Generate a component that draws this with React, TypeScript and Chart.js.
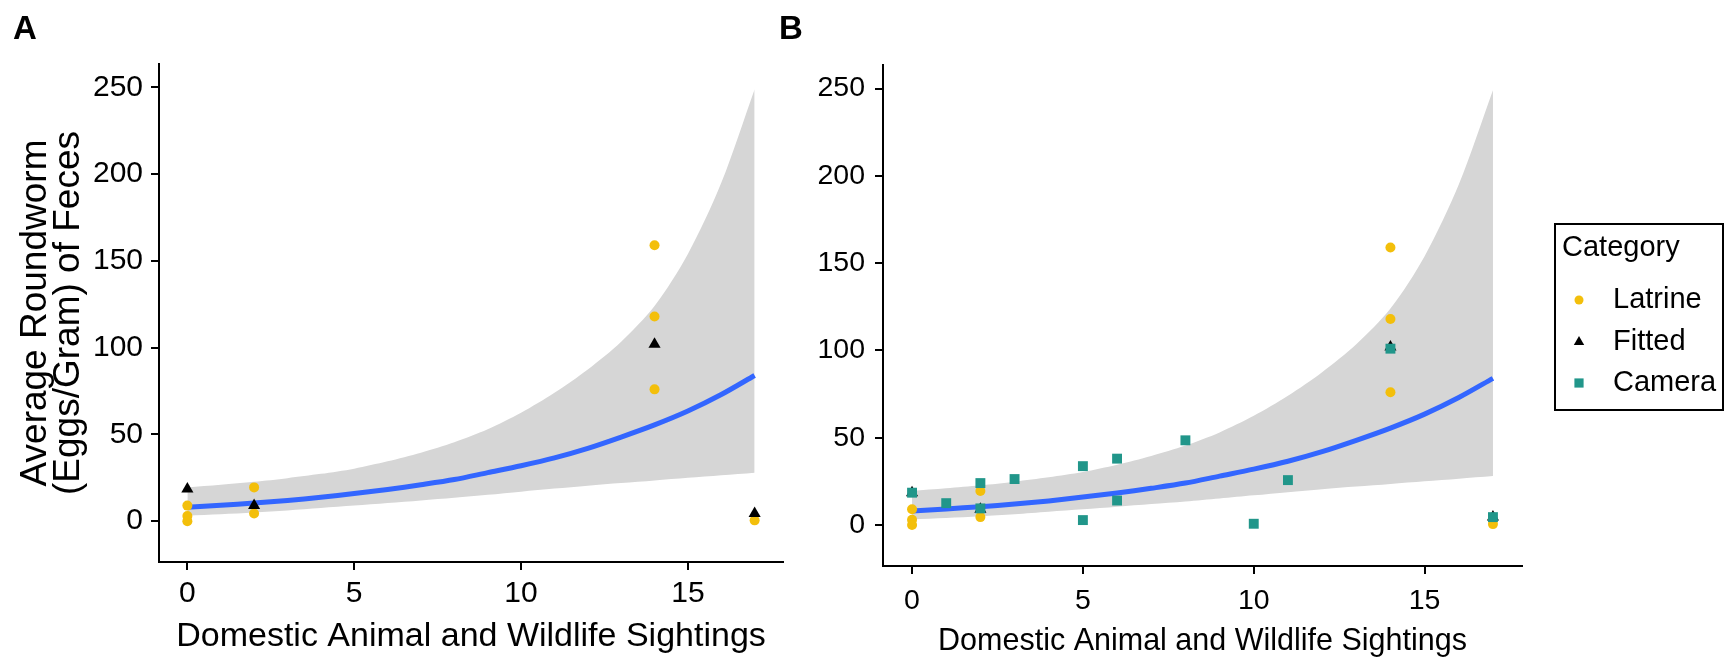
import React, { useEffect, useRef } from "react";
import { Chart, registerables } from "chart.js";

Chart.register(...registerables);

const FONT = "'Liberation Sans', Arial, Helvetica, sans-serif";

// ---------- data ----------
const xTicks = [0, 5, 10, 15];
const yTicks = [0, 50, 100, 150, 200, 250];

const curveX = [0, 1, 2, 3, 4, 5, 6, 7, 8, 9, 10, 11, 12, 13, 14, 15, 16, 17];
const fitValues = [8, 9.2, 10.5, 12, 13.8, 16, 18.3, 21, 24, 28, 32, 36.5, 42, 48.5, 55.5, 63.5, 73, 84];
const upperValues = [19.5, 21, 22.7, 24.8, 27.3, 30.3, 34.5, 39.5, 45.5, 53, 62.5, 74, 87.5, 103.5, 124, 154, 195, 249];
const lowerValues = [3.2, 4, 5, 6.2, 7.6, 9, 10.5, 12, 13.5, 15.2, 17, 18.8, 20.5, 22, 23.5, 25, 26.5, 28];

const latrineX = [0, 0, 0, 2, 2, 14, 14, 14, 17];
const latrineY = [9, 3, 0, 19.5, 4.5, 159, 118, 76, 0.5];

const fittedX = [0, 2, 14, 17];
const fittedY = [18.5, 9, 102, 4.5];

const cameraX = [0, 1, 2, 2, 3, 5, 5, 6, 6, 8, 10, 11, 14, 17];
const cameraY = [18.5, 12.5, 24, 9.5, 26.3, 33.7, 2.8, 38, 14, 48.5, 0.7, 25.7, 101, 4.5];

const categories = ["Latrine", "Fitted", "Camera"];
const legendTitle = "Category";
const xTitle = "Domestic Animal and Wildlife Sightings";
const yTitle = ["Average Roundworm", "(Eggs/Gram) of Feces"];

// ---------- styles ----------
const C_LATRINE = "#F3BF0B";
const C_FITTED = "#000000";
const C_CAMERA = "#21968A";
const C_CURVE = "#3366FF";
const C_RIBBON = "#D6D6D6";
const C_AXIS = "#000000";

const pts = (xs: number[], ys: number[]) => xs.map((x, i) => ({ x, y: ys[i] }));

function drawMarker(ctx: CanvasRenderingContext2D, style: string, x: number, y: number, r: number, color: string) {
  ctx.fillStyle = color;
  ctx.beginPath();
  if (style === "circle") {
    ctx.arc(x, y, r, 0, Math.PI * 2);
  } else if (style === "triangle") {
    ctx.moveTo(x, y - r);
    ctx.lineTo(x + r * 0.866, y + r * 0.5);
    ctx.lineTo(x - r * 0.866, y + r * 0.5);
    ctx.closePath();
  } else {
    const s = r * Math.SQRT1_2;
    ctx.rect(x - s, y - s, 2 * s, 2 * s);
  }
  ctx.fill();
}

const legendBoxPlugin = {
  id: "categoryLegendBox",
  afterDraw(chart: any) {
    const opts = chart.config.options.categoryLegend;
    if (!opts) return;
    const ctx: CanvasRenderingContext2D = chart.ctx;
    ctx.save();
    ctx.strokeStyle = "#000";
    ctx.lineWidth = 2;
    ctx.strokeRect(opts.x, opts.y, opts.w, opts.h);
    ctx.fillStyle = "#000";
    ctx.font = `${opts.fontSize}px ${FONT}`;
    ctx.textBaseline = "middle";
    ctx.textAlign = "left";
    ctx.fillText(legendTitle, opts.titleX, opts.titleY);
    const items = chart.data.datasets.filter((d: any) => categories.includes(d.label));
    items.sort((a: any, b: any) => categories.indexOf(a.label) - categories.indexOf(b.label));
    items.forEach((d: any, i: number) => {
      const y = opts.rowY[i];
      drawMarker(ctx, d.pointStyle, opts.markerX, y, opts.markerR[d.pointStyle], d.pointBackgroundColor);
      ctx.fillStyle = "#000";
      ctx.fillText(d.label, opts.textX, y);
    });
    ctx.restore();
  },
};

type PanelCfg = {
  canvasLeft: number;
  width: number;
  yAxisWidth: number;
  xAxisHeight: number;
  padTop: number;
  padRight: number;
  tickSize: number;
  xTickPad: number;
  yTickPad: number;
  xTitleSize: number;
  xTitlePadBottom: number;
  showYTitle: boolean;
  showCamera: boolean;
  legend: any;
};

function makeConfig(cfg: PanelCfg): any {
  const datasets: any[] = [
    {
      label: "upper",
      data: pts(curveX, upperValues),
      showLine: true,
      fill: "+1",
      backgroundColor: C_RIBBON,
      borderColor: "transparent",
      borderWidth: 0,
      pointRadius: 0,
      tension: 0.3,
      order: 6,
    },
    {
      label: "lower",
      data: pts(curveX, lowerValues),
      showLine: true,
      fill: false,
      borderColor: "transparent",
      borderWidth: 0,
      pointRadius: 0,
      tension: 0.3,
      order: 5,
    },
    {
      label: "fit",
      data: pts(curveX, fitValues),
      showLine: true,
      fill: false,
      borderColor: C_CURVE,
      borderWidth: 5,
      pointRadius: 0,
      tension: 0.3,
      order: 4,
    },
    {
      label: categories[0],
      data: pts(latrineX, latrineY),
      pointStyle: "circle",
      pointRadius: 5,
      pointBackgroundColor: C_LATRINE,
      pointBorderWidth: 0,
      pointBorderColor: "transparent",
      order: 3,
    },
    {
      label: categories[1],
      data: pts(fittedX, fittedY),
      pointStyle: "triangle",
      pointRadius: 7,
      pointBackgroundColor: C_FITTED,
      pointBorderWidth: 0,
      pointBorderColor: "transparent",
      order: 2,
    },
  ];
  if (cfg.showCamera) {
    datasets.push({
      label: categories[2],
      data: pts(cameraX, cameraY),
      pointStyle: "rect",
      pointRadius: 7,
      pointBackgroundColor: C_CAMERA,
      pointBorderWidth: 0,
      pointBorderColor: "transparent",
      order: 1,
    });
  }

  const grid = { drawOnChartArea: false, drawTicks: true, tickLength: 8, color: C_AXIS, lineWidth: 2 };
  const border = { display: true, color: C_AXIS, width: 2 };

  return {
    type: "scatter",
    data: { datasets },
    plugins: [legendBoxPlugin],
    options: {
      animation: false,
      responsive: false,
      maintainAspectRatio: false,
      devicePixelRatio: 1,
      events: [],
      categoryLegend: cfg.legend,
      layout: { padding: { top: cfg.padTop, right: cfg.padRight, left: 0, bottom: 0 } },
      plugins: { legend: { display: false }, tooltip: { enabled: false } },
      scales: {
        x: {
          type: "linear",
          min: -0.85,
          max: 17.85,
          afterBuildTicks: (s: any) => {
            s.ticks = xTicks.map((v) => ({ value: v }));
          },
          afterFit: (s: any) => {
            s.height = cfg.xAxisHeight;
          },
          grid,
          border,
          ticks: {
            color: "#000",
            font: { family: FONT, size: cfg.tickSize },
            padding: cfg.xTickPad,
            maxRotation: 0,
          },
          title: {
            display: true,
            text: xTitle,
            color: "#000",
            font: { family: FONT, size: cfg.xTitleSize, lineHeight: 1 },
            padding: { top: 0, bottom: cfg.xTitlePadBottom },
          },
        },
        y: {
          type: "linear",
          min: -23.5,
          max: 263.5,
          afterBuildTicks: (s: any) => {
            s.ticks = yTicks.map((v) => ({ value: v }));
          },
          afterFit: (s: any) => {
            s.width = cfg.yAxisWidth;
          },
          grid,
          border,
          ticks: {
            color: "#000",
            font: { family: FONT, size: cfg.tickSize },
            padding: cfg.yTickPad,
          },
          title: {
            display: cfg.showYTitle,
            text: yTitle,
            color: "#000",
            font: { family: FONT, size: 37, lineHeight: 0.88 },
            padding: { top: 20, bottom: 0 },
          },
        },
      },
    },
  };
}

function Panel({ cfg }: { cfg: PanelCfg }) {
  const ref = useRef<HTMLCanvasElement>(null);
  useEffect(() => {
    if (!ref.current) return;
    const chart = new Chart(ref.current, makeConfig(cfg));
    return () => chart.destroy();
  }, []);
  return (
    <canvas
      ref={ref}
      width={cfg.width}
      height={657}
      style={{ position: "absolute", left: cfg.canvasLeft, top: 0, width: cfg.width, height: 657 }}
    />
  );
}

const panelA: PanelCfg = {
  canvasLeft: 0,
  width: 790,
  yAxisWidth: 159,
  xAxisHeight: 95,
  padTop: 64,
  padRight: 7,
  tickSize: 30,
  xTickPad: 6,
  yTickPad: 8,
  xTitleSize: 34,
  xTitlePadBottom: 3,
  showYTitle: true,
  showCamera: false,
  legend: null,
};

const panelB: PanelCfg = {
  canvasLeft: 790,
  width: 937,
  yAxisWidth: 93,
  xAxisHeight: 91,
  padTop: 65,
  padRight: 205,
  tickSize: 28.5,
  xTickPad: 10,
  yTickPad: 10,
  xTitleSize: 30.5,
  xTitlePadBottom: 0,
  showYTitle: false,
  showCamera: true,
  legend: {
    x: 765,
    y: 224,
    w: 168,
    h: 186,
    fontSize: 29,
    titleX: 772,
    titleY: 248,
    markerX: 789,
    textX: 823,
    rowY: [300, 342, 383],
    markerR: { circle: 4.5, triangle: 6, rect: 6.5 },
  },
};

const labelStyle: React.CSSProperties = {
  position: "absolute",
  top: 11,
  fontFamily: FONT,
  fontWeight: "bold",
  fontSize: 33,
  lineHeight: "33px",
  color: "#000",
};

export default function App() {
  return (
    <div style={{ position: "absolute", left: 0, top: 0, width: 1727, height: 657, background: "#fff", overflow: "hidden" }}>
      <Panel cfg={panelA} />
      <Panel cfg={panelB} />
      <div style={{ ...labelStyle, left: 13 }}>A</div>
      <div style={{ ...labelStyle, left: 779 }}>B</div>
    </div>
  );
}
